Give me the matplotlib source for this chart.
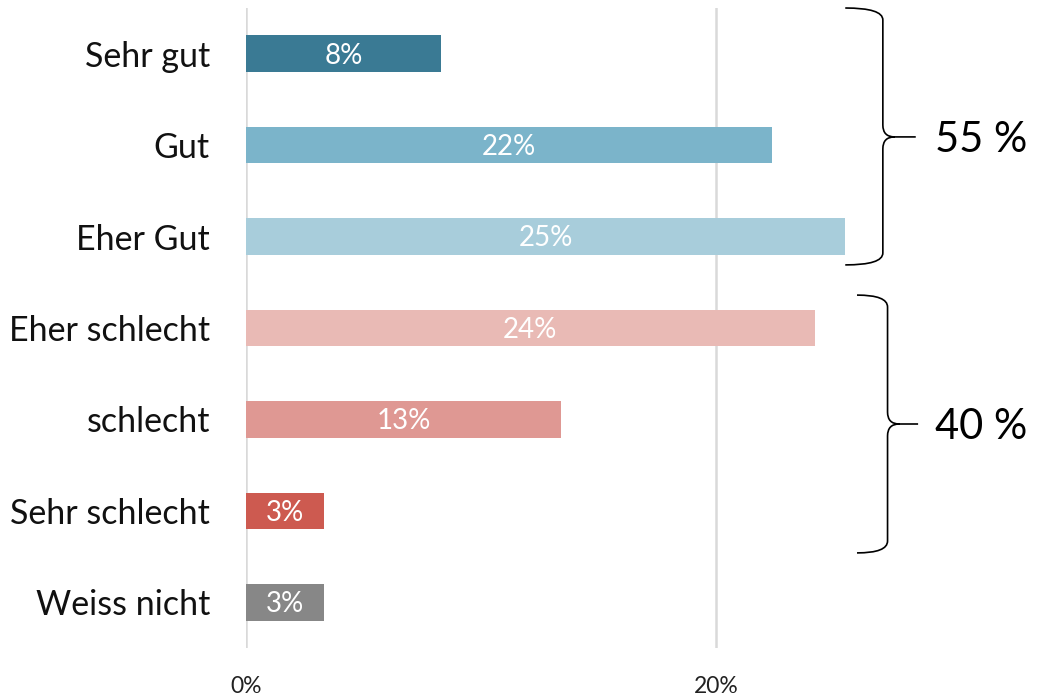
import matplotlib
matplotlib.use("Agg")
import matplotlib.pyplot as plt
from matplotlib.path import Path
from matplotlib.patches import PathPatch
from matplotlib.ticker import FuncFormatter

categories = ["Sehr gut", "Gut", "Eher Gut", "Eher schlecht", "schlecht", "Sehr schlecht", "Weiss nicht"]
values = [8.3, 22.4, 25.5, 24.2, 13.4, 3.3, 3.3]
bar_labels = ["8%", "22%", "25%", "24%", "13%", "3%", "3%"]
colors = ["#3a7a94", "#7bb4ca", "#a8cddb", "#e9bab5", "#df9893", "#cd5a50", "#878787"]
x_ticks = [0, 20]
group_labels = ["55 %", "40 %"]

plt.rcParams['font.family'] = ['Lato', 'DejaVu Sans']

fig = plt.figure(figsize=(10.41, 6.96), dpi=100)
W, H = 1041, 696
ax = fig.add_axes([246 / W, 1 - 648 / H, (W - 246) / W, (648 - 8) / H])

ypos = list(range(len(categories)))
ax.barh(ypos, values, height=0.4, color=colors, zorder=3)
for y, v, lab in zip(ypos, values, bar_labels):
    ax.text(v / 2, y + 0.02, lab, ha='center', va='center', color='white',
            fontsize=20, zorder=4)

ax.set_xlim(0, (W - 246) / 23.5)
ax.set_ylim(len(categories) - 0.5, -0.5)
ax.set_xticks(x_ticks)
ax.xaxis.set_major_formatter(FuncFormatter(lambda v, p: f"{v:.0f}%"))
ax.set_yticks(ypos)
ax.set_yticklabels(categories)
ax.tick_params(axis='y', length=0, pad=26, labelsize=24.5, labelcolor='#111111')
ax.tick_params(axis='x', length=0, pad=20, labelsize=16.5, labelcolor='#222222')
for s in ax.spines.values():
    s.set_visible(False)
ax.grid(axis='x', color='#d9d9d9', linewidth=1.8, zorder=0)
ax.set_axisbelow(True)

# curly braces (layout constants)
braces = [
    # x_left, x_vert, x_tip, y_top, y_bot, y_mid
    (25.5, 27.1, 28.5, -0.5, 2.31, 0.91),
    (26.0, 27.3, 28.6, 2.64, 5.46, 4.05),
]
rx, ry = 0.5, 0.13
for (x0, xv, xt, yt, yb, ym), glab in zip(braces, group_labels):
    verts = [
        (x0, yt), (xv, yt), (xv, yt + ry),
        (xv, ym - ry),
        (xv, ym), (xv + rx, ym),
        (xt, ym),
        (xv + rx, ym), (xv, ym), (xv, ym + ry),
        (xv, yb - ry),
        (xv, yb), (x0, yb),
    ]
    codes = [Path.MOVETO, Path.CURVE3, Path.CURVE3,
             Path.LINETO,
             Path.CURVE3, Path.CURVE3,
             Path.LINETO,
             Path.MOVETO, Path.CURVE3, Path.CURVE3,
             Path.LINETO,
             Path.CURVE3, Path.CURVE3]
    ax.add_patch(PathPatch(Path(verts, codes), facecolor='none', edgecolor='black',
                           linewidth=1.2, clip_on=False, zorder=5))
    ax.text(31.3, ym + 0.03, glab, ha='center', va='center', fontsize=30, color='black')

fig.savefig("out.png", dpi=100)
